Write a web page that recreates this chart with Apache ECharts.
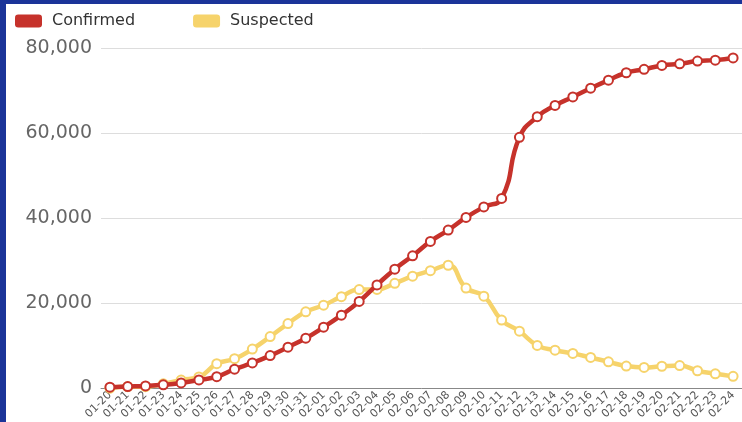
<!DOCTYPE html>
<html>
<head>
<meta charset="utf-8">
<script src="https://cdn.jsdelivr.net/npm/echarts@6/dist/echarts.min.js"></script>
<style>
html,body{margin:0;padding:0;background:#fff;}
#chart{width:742px;height:422px;}
</style>
</head>
<body>
<div id="chart"></div>
<script>
const categories = ['01-20','01-21','01-22','01-23','01-24','01-25','01-26','01-27','01-28','01-29','01-30','01-31',
  '02-01','02-02','02-03','02-04','02-05','02-06','02-07','02-08','02-09','02-10','02-11','02-12','02-13','02-14',
  '02-15','02-16','02-17','02-18','02-19','02-20','02-21','02-22','02-23','02-24'];
const confirmed = [291,440,571,830,1287,1975,2744,4515,5974,7711,9692,11791,
  14380,17205,20438,24324,28018,31161,34546,37198,40171,42638,44653,59000,63851,66492,
  68500,70548,72436,74185,75002,75891,76288,76936,77150,77658];
const suspected = [54,393,393,1072,1965,2684,5794,6973,9239,12167,15238,17988,
  19544,21558,23214,23260,24702,26359,27657,28942,23589,21675,16067,13435,10109,8969,
  8228,7264,6242,5248,4922,5206,5365,4148,3434,2824];
const yTicks = [0,20000,40000,60000,80000];

const chart = echarts.init(document.getElementById('chart'));
chart.setOption({
  backgroundColor:'#fff',
  animation:false,
  graphic:[
    {type:'rect', left:0, top:0, shape:{width:6,height:422}, style:{fill:'#1b3499'}, z:100},
    {type:'rect', left:0, top:0, shape:{width:742,height:4}, style:{fill:'#1b3499'}, z:100}
  ],
  legend:{
    left:10, top:8, itemWidth:27, itemHeight:13, itemGap:58, icon:'roundRect',
    itemStyle:{borderWidth:0},
    textStyle:{fontSize:16, color:'#333', fontFamily:'DejaVu Sans', padding:[0,0,0,5]},
    data:['Confirmed','Suspected']
  },
  grid:{left:101, right:0, top:48, bottom:32, containLabel:false},
  xAxis:{
    type:'category', data:categories, boundaryGap:true,
    axisLine:{lineStyle:{color:'#888', width:1}},
    axisTick:{show:false},
    axisLabel:{rotate:45, interval:0, fontSize:11, color:'#555', margin:5, fontFamily:'DejaVu Sans'}
  },
  yAxis:{
    type:'value', min:0, max:80000, interval:20000,
    axisLine:{show:false}, axisTick:{show:false},
    splitLine:{lineStyle:{color:'#ddd'}},
    axisLabel:{fontSize:19, color:'#666', margin:9, fontFamily:'DejaVu Sans',
      formatter:v=>v.toLocaleString('en-US')}
  },
  series:[
    {name:'Suspected', type:'line', data:suspected, smooth:true, color:'#f6d36b',
      symbol:'emptyCircle', symbolSize:9,
      lineStyle:{width:4.5, color:'#f6d36b'},
      itemStyle:{color:'#f6d36b', borderColor:'#f0dca0', borderWidth:1.5}, z:2},
    {name:'Confirmed', type:'line', data:confirmed, smooth:true, color:'#c6322b',
      symbol:'emptyCircle', symbolSize:9,
      lineStyle:{width:4.5, color:'#c6322b'},
      itemStyle:{color:'#c6322b', borderColor:'#a86a68', borderWidth:1.5}, z:3}
  ]
});
</script>
</body>
</html>
